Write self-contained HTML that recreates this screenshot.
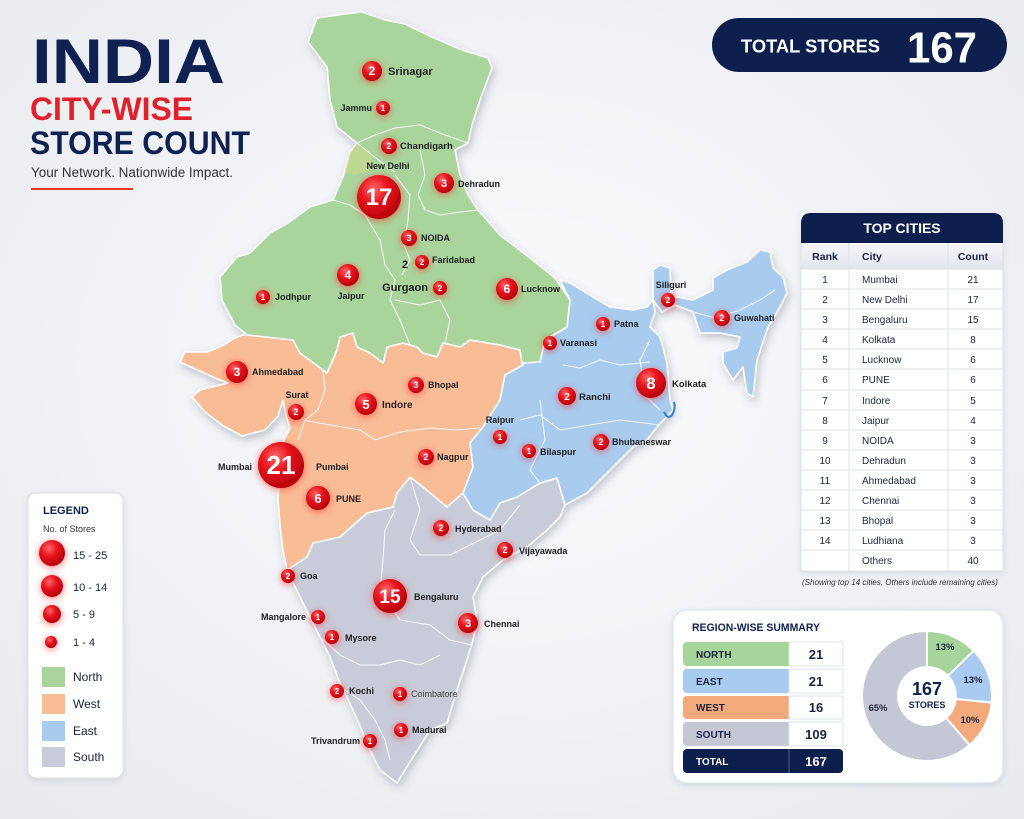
<!DOCTYPE html>
<html><head><meta charset="utf-8"><style>
html,body{margin:0;padding:0;background:#f1f2f6;}
svg{display:block;font-family:"Liberation Sans",Arial,sans-serif;}
</style></head><body>
<svg width="1024" height="819" viewBox="0 0 1024 819" xmlns="http://www.w3.org/2000/svg">
<defs>
<radialGradient id="bg" cx="50%" cy="45%" r="75%"><stop offset="0" stop-color="#fafbfc"/><stop offset="1" stop-color="#e8eaef"/></radialGradient>
<radialGradient id="mk" cx="38%" cy="32%" r="70%"><stop offset="0" stop-color="#ff6a6a"/><stop offset="0.45" stop-color="#e8141e"/><stop offset="1" stop-color="#b5000b"/></radialGradient>
<filter id="glow" x="-80%" y="-80%" width="260%" height="260%"><feDropShadow dx="0" dy="1.5" stdDeviation="3.5" flood-color="#ff1a1a" flood-opacity="0.6"/></filter>
<filter id="mapsh" x="-10%" y="-10%" width="120%" height="120%"><feDropShadow dx="2" dy="4" stdDeviation="4" flood-color="#4a5270" flood-opacity="0.3"/></filter>
<filter id="card" x="-10%" y="-10%" width="120%" height="120%"><feDropShadow dx="0" dy="2" stdDeviation="3" flood-color="#3a4260" flood-opacity="0.13"/></filter>
<linearGradient id="th" x1="0" y1="0" x2="0" y2="1"><stop offset="0" stop-color="#f6f7fa"/><stop offset="1" stop-color="#e2e5ed"/></linearGradient>
</defs>
<rect width="1024" height="819" fill="url(#bg)"/>

<!-- Title -->
<text x="32" y="83" font-size="63" font-weight="700" fill="#0f2150" textLength="193" lengthAdjust="spacingAndGlyphs">INDIA</text>
<text x="30" y="120" font-size="32" font-weight="700" fill="#e0202a" textLength="163" lengthAdjust="spacingAndGlyphs">CITY-WISE</text>
<text x="30" y="154" font-size="32" font-weight="700" fill="#0f2150" textLength="220" lengthAdjust="spacingAndGlyphs">STORE COUNT</text>
<text x="31" y="177" font-size="13.5" fill="#333" textLength="202" lengthAdjust="spacingAndGlyphs">Your Network. Nationwide Impact.</text>
<rect x="31" y="188" width="102" height="2" fill="#e53935"/>

<!-- Total pill -->
<rect x="712" y="18" width="295" height="54" rx="27" fill="#0d1f4d"/>
<text x="741" y="52.5" font-size="18" font-weight="700" fill="#fff" textLength="139" lengthAdjust="spacingAndGlyphs">TOTAL STORES</text>
<text x="907" y="62.5" font-size="44" font-weight="700" fill="#fff" textLength="70" lengthAdjust="spacingAndGlyphs">167</text>

<!-- MAP -->
<g filter="url(#mapsh)" stroke="#ffffff" stroke-width="1.6" stroke-linejoin="round">
<path fill="#c8cbd8" d="M287,570 L307,557 L313,543 L340,537 L367,513 L393,507 L397,493 L410,477 L423,487 L447,507 L463,493 L473,510 L490,520 L500,503 L517,497 L540,483 L557,478 L565,505 L560,517 L547,530 L527,547 L503,560 L483,577 L473,597 L477,620 L473,640 L467,660 L457,690 L447,723 L430,730 L413,757 L397,783 L380,770 L370,750 L363,733 L353,710 L340,683 L330,657 L320,637 L310,617 L300,597 Z"/>
<path fill="#f8bc97" d="M180,362 L185,352 L207,352 L222,346 L237,337 L247,334 L293,340 L300,353 L323,370 L327,373 L337,350 L340,337 L353,333 L357,347 L370,353 L383,363 L387,347 L403,343 L417,347 L423,353 L437,357 L443,343 L460,347 L470,340 L500,345 L520,350 L523,365 L505,375 L500,400 L483,427 L470,443 L473,467 L463,493 L447,507 L423,487 L410,477 L397,493 L393,507 L367,513 L340,537 L313,543 L307,557 L287,570 L283,550 L280,525 L278,500 L279,480 L282,460 L284,440 L290,428 L286,415 L283,400 L278,416 L265,430 L242,436 L222,425 L205,412 L192,397 L200,390 L228,383 L215,378 Z"/>
<path fill="#a8cbee" d="M560,280 L570,283 L593,297 L610,307 L633,310 L647,307 L653,300 L655,312 L650,327 L660,337 L667,363 L670,400 L673,410 L657,427 L647,440 L633,447 L620,460 L600,480 L587,493 L565,505 L557,478 L540,483 L517,497 L500,503 L490,520 L473,510 L463,493 L473,467 L470,443 L483,427 L500,400 L505,375 L523,365 L522,363 L540,362 L545,340 L567,327 L570,300 Z"/>
<path fill="#a8cbee" d="M653,300 L653,270 L660,265 L670,268 L671,296 L693,300 L713,290 L713,278 L727,270 L747,262 L760,250 L770,252 L773,268 L783,277 L787,293 L780,307 L768,327 L757,360 L753,397 L747,393 L743,367 L733,380 L723,363 L723,352 L737,348 L740,337 L720,333 L700,333 L693,312 L675,305 L662,312 Z"/>
<path fill="#a9d49c" d="M308,42 L317,18 L345,14 L362,12 L385,20 L405,24 L432,37 L462,50 L488,58 L492,68 L480,100 L472,125 L468,143 L455,150 L460,175 L468,195 L478,210 L500,235 L530,258 L555,278 L570,300 L567,327 L545,340 L540,362 L522,363 L520,350 L500,345 L470,340 L460,347 L443,343 L437,357 L423,353 L417,347 L403,343 L387,347 L383,363 L370,353 L357,347 L353,333 L340,337 L337,350 L327,373 L323,370 L300,353 L293,340 L247,335 L235,325 L222,300 L220,277 L237,257 L250,253 L270,233 L288,223 L310,207 L333,200 L343,177 L350,153 L357,143 L337,127 L330,100 L327,67 Z"/>
</g>
<path d="M350,153 L357,143 L372,155 L370,170 L355,175 L345,172 Z" fill="#c9d98c" opacity="0.7"/>
<g fill="none" stroke="#ffffff" stroke-width="1.1" opacity="0.85" stroke-linejoin="round">
<polyline points="357,143 375,135 395,128 420,125 445,135 468,143"/>
<polyline points="357,143 372,155 385,165 395,172"/>
<polyline points="420,150 425,175 418,195 425,210 440,215 460,212 478,210"/>
<polyline points="333,200 350,205 365,215 380,240 385,265 395,280 390,300 400,320 410,345"/>
<polyline points="395,175 410,195 408,220 404,245 410,260 402,275"/>
<polyline points="395,300 420,305 440,300 450,320 445,343"/>
<polyline points="323,370 325,390 318,410 305,420 298,440"/>
<polyline points="303,420 330,425 360,430 375,440 400,432 430,428 455,430 480,428"/>
<polyline points="563,365 580,368 600,360 620,365 650,362"/>
<polyline points="520,420 540,415 560,430 590,425 620,420 660,425"/>
<polyline points="540,400 545,440 530,470 540,483"/>
<polyline points="650,340 640,360 645,395 660,410"/>
<polyline points="410,477 420,510 410,540 420,555 450,555 480,540 500,530 520,505"/>
<polyline points="395,510 385,530 383,560 380,590 400,620 430,625 450,640 472,645"/>
<polyline points="320,637 340,655 360,665 380,665 400,660 420,665 440,655"/>
<polyline points="345,690 360,700 375,720 385,740 390,760"/>
<polyline points="693,312 715,318 740,310 760,300 775,290"/>
</g>
<path d="M664,412 Q668,420 672,415 Q676,408 674,402" fill="none" stroke="#2a7fd6" stroke-width="2"/>

<!-- Markers -->
<g filter="url(#glow)" fill="url(#mk)">
<circle cx="372" cy="71" r="10"/><circle cx="383" cy="108" r="7"/><circle cx="389" cy="146" r="8"/>
<circle cx="379" cy="197" r="22"/><circle cx="444" cy="183" r="10"/><circle cx="409" cy="238" r="8"/>
<circle cx="422" cy="262" r="7"/><circle cx="440" cy="288" r="7"/><circle cx="348" cy="275" r="11"/>
<circle cx="263" cy="297" r="7"/><circle cx="507" cy="289" r="11"/><circle cx="237" cy="372" r="11"/>
<circle cx="296" cy="412" r="8"/><circle cx="416" cy="385" r="8"/><circle cx="366" cy="404" r="11"/>
<circle cx="281" cy="465" r="23"/><circle cx="318" cy="498" r="12"/><circle cx="426" cy="457" r="8"/>
<circle cx="500" cy="437" r="7"/><circle cx="529" cy="451" r="7"/><circle cx="567" cy="396" r="9"/>
<circle cx="601" cy="442" r="8"/><circle cx="651" cy="383" r="15"/><circle cx="603" cy="324" r="7"/>
<circle cx="550" cy="343" r="7"/><circle cx="668" cy="300" r="7"/><circle cx="722" cy="318" r="8"/>
<circle cx="441" cy="528" r="8"/><circle cx="505" cy="550" r="8"/><circle cx="288" cy="576" r="7"/>
<circle cx="390" cy="596" r="17"/><circle cx="318" cy="617" r="7"/><circle cx="332" cy="637" r="7"/>
<circle cx="468" cy="623" r="10"/><circle cx="337" cy="691" r="7"/><circle cx="400" cy="694" r="7"/>
<circle cx="401" cy="730" r="7"/><circle cx="370" cy="741" r="7"/>
</g>
<g fill="#fff" font-weight="700" text-anchor="middle">
<text x="372" y="75" font-size="12">2</text><text x="383" y="111" font-size="8">1</text><text x="389" y="149" font-size="9">2</text>
<text x="379" y="205" font-size="24">17</text><text x="444" y="187" font-size="11">3</text><text x="409" y="241" font-size="9">3</text>
<text x="422" y="265" font-size="8">2</text><text x="440" y="291" font-size="8">2</text><text x="348" y="279" font-size="12">4</text>
<text x="263" y="300" font-size="8">1</text><text x="507" y="293" font-size="12">6</text><text x="237" y="376" font-size="12">3</text>
<text x="296" y="415" font-size="9">2</text><text x="416" y="388" font-size="9">3</text><text x="366" y="409" font-size="13">5</text>
<text x="281" y="474" font-size="26">21</text><text x="318" y="503" font-size="13">6</text><text x="426" y="460" font-size="9">2</text>
<text x="500" y="440" font-size="8">1</text><text x="529" y="454" font-size="8">1</text><text x="567" y="400" font-size="10">2</text>
<text x="601" y="445" font-size="9">2</text><text x="651" y="389" font-size="17">8</text><text x="603" y="327" font-size="8">1</text>
<text x="550" y="346" font-size="8">1</text><text x="668" y="303" font-size="8">2</text><text x="722" y="321" font-size="9">2</text>
<text x="441" y="531" font-size="9">2</text><text x="505" y="553" font-size="9">2</text><text x="288" y="579" font-size="8">2</text>
<text x="390" y="603" font-size="19">15</text><text x="318" y="620" font-size="8">1</text><text x="332" y="640" font-size="8">1</text>
<text x="468" y="627" font-size="11">3</text><text x="337" y="694" font-size="8">2</text><text x="400" y="697" font-size="8">1</text>
<text x="401" y="733" font-size="8">1</text><text x="370" y="744" font-size="8">1</text>
</g>

<!-- City labels -->
<g fill="#1e1e22" font-weight="700" font-size="9">
<text x="388" y="75" font-size="11">Srinagar</text>
<text x="372" y="111" text-anchor="end">Jammu</text>
<text x="400" y="149" font-size="9.5">Chandigarh</text>
<text x="388" y="169" text-anchor="middle">New Delhi</text>
<text x="458" y="187">Dehradun</text>
<text x="421" y="241">NOIDA</text>
<text x="405" y="268" text-anchor="middle" font-size="11">2</text>
<text x="432" y="263">Faridabad</text>
<text x="428" y="291" text-anchor="end" font-size="11">Gurgaon</text>
<text x="351" y="299" text-anchor="middle">Jaipur</text>
<text x="275" y="300">Jodhpur</text>
<text x="521" y="292">Lucknow</text>
<text x="252" y="375">Ahmedabad</text>
<text x="297" y="398" text-anchor="middle">Surat</text>
<text x="428" y="388">Bhopal</text>
<text x="382" y="408" font-size="10">Indore</text>
<text x="252" y="470" text-anchor="end">Mumbai</text>
<text x="316" y="470">Pumbai</text>
<text x="336" y="502">PUNE</text>
<text x="437" y="460">Nagpur</text>
<text x="500" y="423" text-anchor="middle">Raipur</text>
<text x="540" y="455">Bilaspur</text>
<text x="579" y="400" font-size="9.5">Ranchi</text>
<text x="612" y="445">Bhubaneswar</text>
<text x="672" y="387" font-size="9.5">Kolkata</text>
<text x="614" y="327">Patna</text>
<text x="560" y="346">Varanasi</text>
<text x="671" y="288" text-anchor="middle">Siliguri</text>
<text x="734" y="321">Guwahati</text>
<text x="455" y="532">Hyderabad</text>
<text x="519" y="554">Vijayawada</text>
<text x="300" y="579">Goa</text>
<text x="414" y="600">Bengaluru</text>
<text x="306" y="620" text-anchor="end">Mangalore</text>
<text x="345" y="641">Mysore</text>
<text x="484" y="627">Chennai</text>
<text x="349" y="694">Kochi</text>
<text x="411" y="697" font-weight="400" fill="#444">Coimbatore</text>
<text x="412" y="733">Madurai</text>
<text x="360" y="744" text-anchor="end">Trivandrum</text>
</g>

<!-- Legend -->
<rect x="28" y="493" width="95" height="285" rx="8" fill="#fff" stroke="#dde0e8" filter="url(#card)"/>
<text x="43" y="514" font-size="11" font-weight="700" fill="#0f2150">LEGEND</text>
<text x="43" y="532" font-size="9" fill="#333">No. of Stores</text>
<g filter="url(#glow)" fill="url(#mk)">
<circle cx="52" cy="553" r="13"/><circle cx="52" cy="586" r="11"/><circle cx="52" cy="614" r="9"/><circle cx="51" cy="642" r="6"/>
</g>
<g font-size="11" fill="#1a2340">
<text x="73" y="559">15 - 25</text><text x="73" y="591">10 - 14</text><text x="73" y="618">5 - 9</text><text x="73" y="646">1 - 4</text>
</g>
<rect x="42" y="667" width="23" height="20" fill="#a9d49c"/>
<rect x="42" y="694" width="23" height="20" fill="#f8bc97"/>
<rect x="42" y="721" width="23" height="20" fill="#a8cbee"/>
<rect x="42" y="747" width="23" height="20" fill="#c8cbd8"/>
<g font-size="12" fill="#1a2340">
<text x="73" y="681">North</text><text x="73" y="708">West</text><text x="73" y="735">East</text><text x="73" y="761">South</text>
</g>

<!-- Top Cities table -->
<g filter="url(#card)">
<rect x="801" y="213" width="202" height="358" fill="#fff"/>
</g>
<path d="M801,243 L801,223 Q801,213 811,213 L993,213 Q1003,213 1003,223 L1003,243 Z" fill="#0d1f4d"/>
<text x="902" y="233" font-size="14" font-weight="700" fill="#fff" text-anchor="middle">TOP CITIES</text>
<rect x="801" y="243" width="202" height="26" fill="url(#th)"/>
<g font-size="10.5" font-weight="700" fill="#1a2340">
<text x="825" y="260" text-anchor="middle">Rank</text><text x="862" y="260">City</text><text x="973" y="260" text-anchor="middle">Count</text>
</g>
<g stroke="#dde1ea" stroke-width="1">
<line x1="801" y1="269" x2="1003" y2="269"/><line x1="801" y1="289" x2="1003" y2="289"/><line x1="801" y1="309" x2="1003" y2="309"/>
<line x1="801" y1="329" x2="1003" y2="329"/><line x1="801" y1="349" x2="1003" y2="349"/><line x1="801" y1="369" x2="1003" y2="369"/>
<line x1="801" y1="390" x2="1003" y2="390"/><line x1="801" y1="410" x2="1003" y2="410"/><line x1="801" y1="430" x2="1003" y2="430"/>
<line x1="801" y1="450" x2="1003" y2="450"/><line x1="801" y1="470" x2="1003" y2="470"/><line x1="801" y1="490" x2="1003" y2="490"/>
<line x1="801" y1="510" x2="1003" y2="510"/><line x1="801" y1="530" x2="1003" y2="530"/><line x1="801" y1="550" x2="1003" y2="550"/>
<line x1="801" y1="571" x2="1003" y2="571"/>
<line x1="849" y1="243" x2="849" y2="571"/><line x1="948" y1="243" x2="948" y2="571"/>
<line x1="801" y1="243" x2="801" y2="571"/><line x1="1003" y1="243" x2="1003" y2="571"/>
</g>
<g font-size="10" fill="#1a2340">
<g text-anchor="middle">
<text x="825" y="283">1</text><text x="825" y="303">2</text><text x="825" y="323">3</text><text x="825" y="343">4</text>
<text x="825" y="363">5</text><text x="825" y="383">6</text><text x="825" y="404">7</text><text x="825" y="424">8</text>
<text x="825" y="444">9</text><text x="825" y="464">10</text><text x="825" y="484">11</text><text x="825" y="504">12</text>
<text x="825" y="524">13</text><text x="825" y="544">14</text>
<text x="973" y="283">21</text><text x="973" y="303">17</text><text x="973" y="323">15</text><text x="973" y="343">8</text>
<text x="973" y="363">6</text><text x="973" y="383">6</text><text x="973" y="404">5</text><text x="973" y="424">4</text>
<text x="973" y="444">3</text><text x="973" y="464">3</text><text x="973" y="484">3</text><text x="973" y="504">3</text>
<text x="973" y="524">3</text><text x="973" y="544">3</text><text x="973" y="564">40</text>
</g>
<text x="862" y="283">Mumbai</text><text x="862" y="303">New Delhi</text><text x="862" y="323">Bengaluru</text><text x="862" y="343">Kolkata</text>
<text x="862" y="363">Lucknow</text><text x="862" y="383">PUNE</text><text x="862" y="404">Indore</text><text x="862" y="424">Jaipur</text>
<text x="862" y="444">NOIDA</text><text x="862" y="464">Dehradun</text><text x="862" y="484">Ahmedabad</text><text x="862" y="504">Chennai</text>
<text x="862" y="524">Bhopal</text><text x="862" y="544">Ludhiana</text><text x="862" y="564">Others</text>
</g>
<text x="802" y="585" font-size="8" font-style="italic" fill="#333" textLength="196" lengthAdjust="spacingAndGlyphs">(Showing top 14 cities, Others include remaining cities)</text>

<!-- Region-wise summary -->
<rect x="673" y="610" width="330" height="173" rx="14" fill="#fff" stroke="#dde0e8" filter="url(#card)"/>
<text x="692" y="631" font-size="11" font-weight="700" fill="#0f2150" textLength="128" lengthAdjust="spacingAndGlyphs">REGION-WISE SUMMARY</text>
<rect x="683" y="642" width="160" height="24" rx="4" fill="#a6d49b"/>
<rect x="789" y="642" width="54" height="24" fill="#fff" stroke="#d6e8d0"/>
<rect x="683" y="669" width="160" height="24" rx="4" fill="#a8cbef"/>
<rect x="789" y="669" width="54" height="24" fill="#fff" stroke="#dde3ec"/>
<rect x="683" y="696" width="160" height="23" rx="4" fill="#f4a97c"/>
<rect x="789" y="696" width="54" height="23" fill="#fff" stroke="#dde3ec"/>
<rect x="683" y="722" width="160" height="24" rx="4" fill="#c5c8d4"/>
<rect x="789" y="722" width="54" height="24" fill="#fff" stroke="#dde3ec"/>
<rect x="683" y="749" width="160" height="24" rx="4" fill="#0d1f4d"/>
<line x1="789" y1="749" x2="789" y2="773" stroke="#50608a"/>
<g font-size="10" font-weight="700" fill="#1a2340">
<text x="696" y="658">NORTH</text><text x="696" y="685">EAST</text><text x="696" y="711">WEST</text><text x="696" y="738">SOUTH</text>
<text x="696" y="765" fill="#fff">TOTAL</text>
</g>
<g font-size="13" font-weight="700" fill="#1a2340" text-anchor="middle">
<text x="816" y="659">21</text><text x="816" y="686">21</text><text x="816" y="712">16</text><text x="816" y="739">109</text>
<text x="816" y="766" fill="#fff">167</text>
</g>
<g stroke="#fff" stroke-width="2">
<path fill="#a6d49b" d="M927,631 A65,65 0 0 1 973.76,650.84 L947.86,675.85 A29,29 0 0 0 927,667 Z"/>
<path fill="#a8cbef" d="M973.76,650.84 A65,65 0 0 1 991.64,702.79 L955.84,699.03 A29,29 0 0 0 947.86,675.85 Z"/>
<path fill="#f4a97c" d="M991.64,702.79 A65,65 0 0 1 969.65,745.06 L946.03,717.89 A29,29 0 0 0 955.84,699.03 Z"/>
<path fill="#c5c8d4" d="M969.65,745.06 A65,65 0 1 1 927,631 L927,667 A29,29 0 1 0 946.03,717.89 Z"/>
</g>
<g font-size="9.5" font-weight="700" fill="#1a2340" text-anchor="middle">
<text x="945" y="650">13%</text><text x="973" y="683">13%</text><text x="970" y="723">10%</text><text x="878" y="711">65%</text>
</g>
<text x="927" y="695" font-size="18" font-weight="700" fill="#0f2150" text-anchor="middle">167</text>
<text x="927" y="708" font-size="9" font-weight="700" fill="#0f2150" text-anchor="middle">STORES</text>
</svg>
</body></html>
